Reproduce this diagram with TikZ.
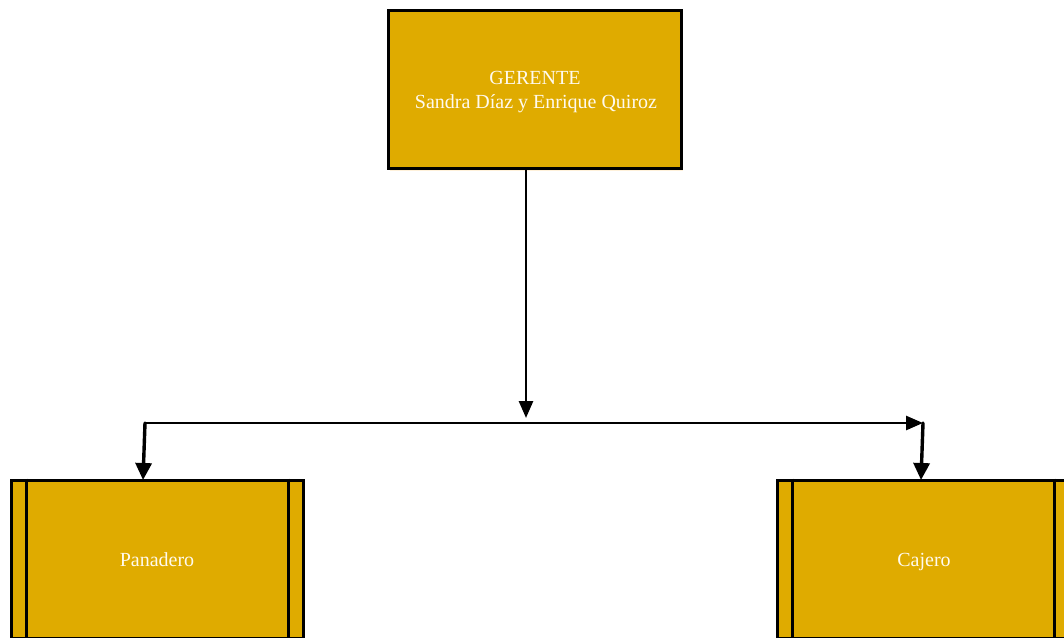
\documentclass[tikz,border=0pt]{standalone}
\usepackage{fontspec}
\setmainfont{Liberation Serif}
\usetikzlibrary{arrows.meta,shadows}
\definecolor{boxfill}{RGB}{223,171,0}
\definecolor{boxtext}{RGB}{255,250,238}
\definecolor{glow}{RGB}{255,214,150}
\tikzset{
  unitbox/.style={draw=black, line width=3pt, fill=boxfill, inner sep=0pt,
    drop shadow={shadow xshift=2pt, shadow yshift=-3pt, fill=glow, opacity=0.35}},
  label text/.style={text=boxtext, font=\fontsize{20}{24}\selectfont, anchor=base, inner sep=0pt},
  link/.style={draw=black, line width=2.7pt, -{Triangle[length=17pt,width=14pt]}},
  droplink/.style={draw=black, line width=3.4pt, -{Triangle[length=17pt,width=16pt]}},
}
\begin{document}
\begin{tikzpicture}[x=1pt,y=-1pt]
  \useasboundingbox (0,0) rectangle (1064,637);
  \clip (0,0) rectangle (1064,637);

  % manager
  \node[unitbox, minimum width=293pt, minimum height=158pt] (g) at (534.5,89) {};
  \node[label text] (g1) at (535,84) {GERENTE};
  \node[label text] (g2) at (536,108) {Sandra Díaz y Enrique Quiroz};

  % staff (predefined-process boxes)
  \node[unitbox, minimum width=292pt, minimum height=158pt] (p) at (157,559) {};
  \node[unitbox, minimum width=292pt, minimum height=158pt] (c) at (923,559) {};
  \foreach \n in {p,c}{
    \draw[line width=3pt] ([xshift=17pt]\n.north west) -- ([xshift=17pt]\n.south west);
    \draw[line width=3pt] ([xshift=-16pt]\n.north east) -- ([xshift=-16pt]\n.south east);
  }
  \node[label text] (pl) at (157,566) {Panadero};
  \node[label text] (cl) at (924,566) {Cajero};

  % connector points
  \coordinate (gs) at (526,168);
  \coordinate (jm) at (526,418);
  \coordinate (jl) at (145,423);
  \coordinate (jr) at (923,423);
  \coordinate (pt) at (143,480);
  \coordinate (ct) at (921,480);

  \draw[link] (gs) -- (jm);
  \draw[link, line cap=round] (jl) -- (jr);
  \draw[droplink, line cap=round] (jl) -- (pt);
  \draw[droplink, line cap=round] (jr) -- (ct);
\end{tikzpicture}
\end{document}
